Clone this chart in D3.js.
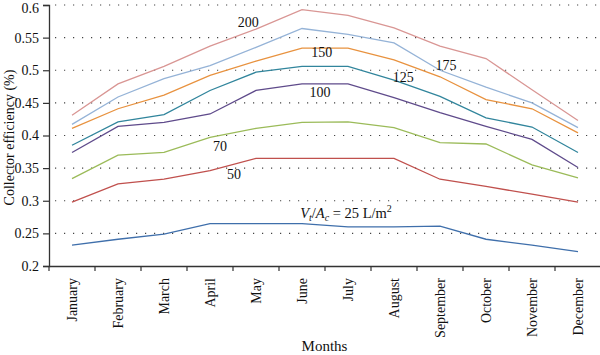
<!DOCTYPE html>
<html>
<head>
<meta charset="utf-8">
<script src="https://cdn.jsdelivr.net/npm/d3@7"></script>
<style>
  html, body { margin: 0; padding: 0; background: #fff; }
  svg { display: block; }
  text { font-family: "Liberation Serif", "DejaVu Serif", serif; fill: #111; }
</style>
</head>
<body>
<svg id="chart" width="600" height="355"></svg>
<script>
const months = ["January","February","March","April","May","June","July","August","September","October","November","December"];
const yTicks = [0.2,0.25,0.3,0.35,0.4,0.45,0.5,0.55,0.6];

const s25  = [0.232,0.241,0.249,0.265,0.265,0.265,0.260,0.260,0.261,0.241,0.232,0.222];
const s50  = [0.298,0.326,0.333,0.346,0.365,0.365,0.365,0.365,0.333,0.322,0.310,0.298];
const s70  = [0.334,0.370,0.374,0.397,0.411,0.420,0.421,0.412,0.389,0.387,0.355,0.335];
const s100 = [0.374,0.414,0.420,0.433,0.469,0.479,0.479,0.458,0.435,0.414,0.394,0.351];
const s125 = [0.385,0.421,0.432,0.469,0.497,0.506,0.506,0.485,0.460,0.427,0.413,0.374];
const s150 = [0.411,0.441,0.462,0.492,0.514,0.534,0.534,0.516,0.490,0.455,0.441,0.404];
const s175 = [0.417,0.459,0.487,0.507,0.535,0.564,0.555,0.542,0.500,0.474,0.450,0.412];
const s200 = [0.431,0.479,0.506,0.537,0.563,0.593,0.584,0.565,0.537,0.518,0.470,0.423];

const seriesNames = ["25","50","70","100","125","150","175","200"];
const seriesValues = [s25,s50,s70,s100,s125,s150,s175,s200];
const seriesColors = ["#3f6fab","#c0504d","#9bbb59","#5f4b8b","#31859c","#e8923f","#95b3d7","#d99694"];

// label anchors (month index, value) for the inline curve labels
const labelText = ["50","70","100","125","150","175","200"];
const labelMonth = [3.52,3.22,5.39,7.2,5.43,8.13,3.83];
const labelValue = [0.341,0.384,0.467,0.49,0.528,0.508,0.574];

const svg = d3.select("#chart");
const mLeft = 49, mRight = 601, mTop = 5, mBottom = 266;

const x = d3.scaleBand().domain(months).range([mLeft, mRight]);
const y = d3.scaleLinear().domain([0.2, 0.6]).range([mBottom, mTop]);
const xc = m => x(m) + x.bandwidth() / 2;
const xi = i => mLeft + (i + 0.5) * x.bandwidth();

// grid
svg.append("g").selectAll("line")
  .data(yTicks.filter(t => t > 0.2))
  .join("line")
  .attr("x1", mLeft + 6).attr("x2", 600)
  .attr("y1", d => y(d)).attr("y2", d => y(d))
  .attr("stroke", "#444").attr("stroke-width", 1.2)
  .attr("stroke-dasharray", "1.2,7.8");

// lines
const line = d3.line().x((d, i) => xc(months[i])).y(d => y(d));
svg.append("g").selectAll("path")
  .data(seriesValues)
  .join("path")
  .attr("d", d => line(d))
  .attr("fill", "none")
  .attr("stroke", (d, i) => seriesColors[i])
  .attr("stroke-width", 1.3);

// axes
const yAxis = d3.axisLeft(y).tickValues(yTicks).tickFormat(d => String(d)).tickSizeOuter(0).tickSize(6).tickPadding(4);
const gy = svg.append("g").attr("transform", `translate(${mLeft},0)`).call(yAxis);
gy.select(".domain").attr("stroke", "#333").attr("stroke-width", 1.3);
gy.selectAll(".tick line").attr("stroke", "#333").attr("stroke-width", 1.2);
gy.selectAll(".tick text").attr("font-size", 14).attr("font-family", "Liberation Serif").attr("fill", "#111");
gy.selectAll(".tick text").filter(d => d === 0.6).attr("dy", "0.5em");

const xAxis = d3.axisBottom(x).tickSize(0).tickSizeOuter(0);
const gx = svg.append("g").attr("transform", `translate(0,${mBottom})`).call(xAxis);
gx.select(".domain").attr("stroke", "#333").attr("stroke-width", 1.3);
gx.selectAll(".tick text")
  .attr("font-size", 14).attr("font-family", "Liberation Serif").attr("fill", "#111")
  .attr("transform", "rotate(-90)")
  .attr("text-anchor", "end")
  .attr("x", -12).attr("y", 0).attr("dy", "0.35em");
// boundary ticks between categories
const bounds = d3.range(months.length + 1).map(i => mLeft + i * x.bandwidth());
svg.append("g").selectAll("line").data(bounds).join("line")
  .attr("x1", d => d).attr("x2", d => d)
  .attr("y1", mBottom).attr("y2", mBottom + 5)
  .attr("stroke", "#333").attr("stroke-width", 1.2);

// curve labels
svg.append("g").selectAll("text")
  .data(labelText)
  .join("text")
  .attr("x", (d, i) => xi(labelMonth[i]))
  .attr("y", (d, i) => y(labelValue[i]))
  .attr("text-anchor", "middle")
  .attr("dy", "0.35em")
  .attr("font-size", 14)
  .text(d => d);

// 25 label: Vt/Ac = 25 L/m2
const lab = svg.append("text")
  .attr("x", xi(4.96)).attr("y", y(0.273))
  .attr("font-size", 14.5)
  .attr("text-anchor", "start");
lab.append("tspan").attr("font-style", "italic").text("V");
lab.append("tspan").attr("font-style", "italic").attr("font-size", 10).attr("dy", 3).text("t");
lab.append("tspan").attr("dy", -3).text("/");
lab.append("tspan").attr("font-style", "italic").text("A");
lab.append("tspan").attr("font-style", "italic").attr("font-size", 10).attr("dy", 3).text("c");
lab.append("tspan").attr("dy", -3).text(" = " + seriesNames[0] + " L/m");
lab.append("tspan").attr("font-size", 10).attr("dy", -6).text("2");

// axis titles
svg.append("text")
  .attr("x", (mLeft + 600) / 2).attr("y", 351)
  .attr("text-anchor", "middle")
  .attr("font-size", 15)
  .text("Months");
svg.append("text")
  .attr("transform", `translate(9,${(mTop + mBottom) / 2 + 2}) rotate(-90)`)
  .attr("text-anchor", "middle")
  .attr("dy", "0.35em")
  .attr("font-size", 14)
  .text("Collector efficiency (%)");
</script>
</body>
</html>
